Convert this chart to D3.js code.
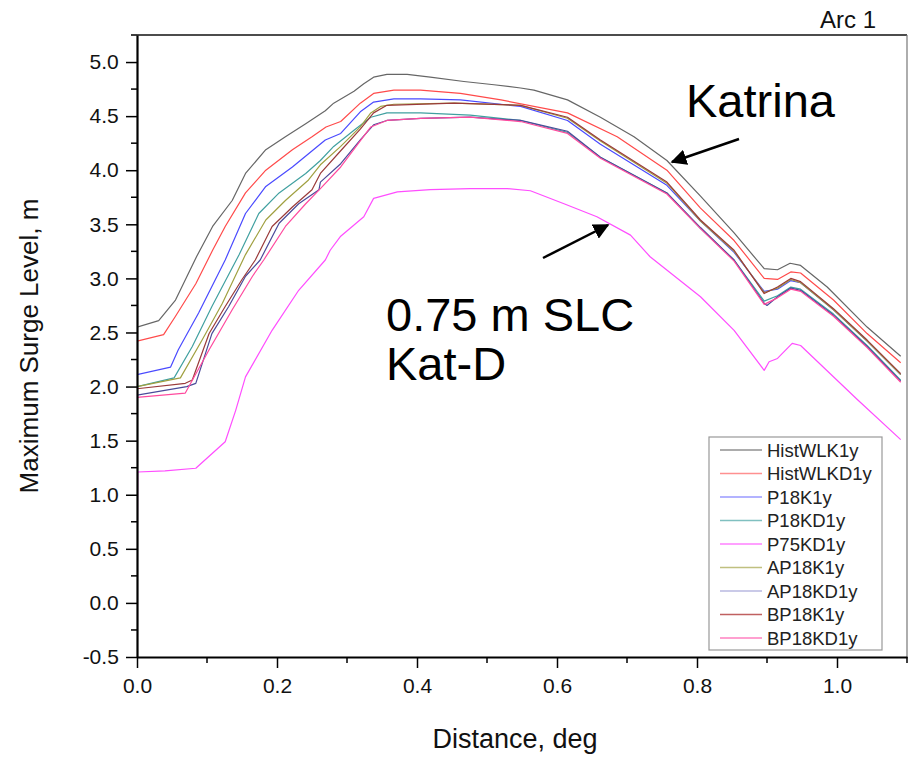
<!DOCTYPE html>
<html>
<head>
<meta charset="utf-8">
<script src="https://cdn.jsdelivr.net/npm/d3@7"></script>
<style>
  body { margin: 0; background: #fff; }
  svg { font-family: "Liberation Sans", Arial, sans-serif; }
</style>
</head>
<body>
<div id="chart"></div>
<script>
// series: [distance deg, max surge level m]
const histWLK1y = [[0,2.55],[0.031,2.61],[0.055,2.80],[0.085,3.20],[0.108,3.48],[0.136,3.72],[0.155,3.97],[0.184,4.19],[0.212,4.31],[0.241,4.43],[0.269,4.55],[0.281,4.62],[0.31,4.73],[0.324,4.80],[0.338,4.86],[0.357,4.886],[0.386,4.886],[0.419,4.86],[0.467,4.82],[0.51,4.79],[0.548,4.76],[0.567,4.74],[0.615,4.65],[0.662,4.49],[0.71,4.31],[0.757,4.09],[0.805,3.76],[0.853,3.42],[0.896,3.09],[0.915,3.08],[0.933,3.14],[0.948,3.12],[0.986,2.92],[1.043,2.55],[1.091,2.28]];
const histWLKD1y = [[0,2.42],[0.038,2.48],[0.055,2.65],[0.084,2.95],[0.108,3.26],[0.126,3.48],[0.155,3.79],[0.184,4.0],[0.222,4.19],[0.25,4.31],[0.27,4.40],[0.291,4.45],[0.319,4.62],[0.338,4.71],[0.367,4.74],[0.405,4.74],[0.462,4.71],[0.52,4.65],[0.615,4.53],[0.686,4.31],[0.757,4.0],[0.805,3.65],[0.853,3.35],[0.896,3.0],[0.915,2.99],[0.934,3.06],[0.948,3.05],[0.995,2.80],[1.043,2.49],[1.091,2.22]];
const p18K1y = [[0,2.11],[0.048,2.18],[0.059,2.34],[0.088,2.68],[0.126,3.17],[0.155,3.60],[0.184,3.85],[0.222,4.03],[0.269,4.28],[0.291,4.34],[0.319,4.54],[0.338,4.63],[0.367,4.66],[0.405,4.66],[0.462,4.65],[0.548,4.59],[0.615,4.46],[0.662,4.24],[0.757,3.86],[0.805,3.53],[0.853,3.24],[0.896,2.88],[0.915,2.90],[0.934,2.98],[0.948,2.96],[0.995,2.71],[1.043,2.42],[1.091,2.11]];
const p18KD1y = [[0,2.0],[0.053,2.08],[0.079,2.37],[0.107,2.74],[0.146,3.22],[0.174,3.60],[0.203,3.79],[0.241,3.97],[0.262,4.09],[0.281,4.22],[0.31,4.37],[0.334,4.49],[0.357,4.53],[0.405,4.53],[0.476,4.51],[0.548,4.46],[0.615,4.35],[0.662,4.12],[0.757,3.79],[0.805,3.46],[0.853,3.17],[0.896,2.79],[0.915,2.84],[0.934,2.92],[0.948,2.90],[0.995,2.67],[1.043,2.38],[1.091,2.06]];
const p75KD1y = [[0,0.0],[0.001,1.21],[0.04,1.22],[0.084,1.245],[0.126,1.49],[0.141,1.78],[0.155,2.09],[0.193,2.52],[0.231,2.89],[0.269,3.17],[0.276,3.26],[0.291,3.39],[0.324,3.57],[0.338,3.74],[0.372,3.80],[0.419,3.82],[0.476,3.83],[0.529,3.83],[0.562,3.81],[0.61,3.69],[0.657,3.57],[0.705,3.40],[0.733,3.20],[0.805,2.83],[0.853,2.52],[0.896,2.15],[0.903,2.23],[0.915,2.26],[0.936,2.40],[0.948,2.38],[1.029,1.88],[1.091,1.51]];
const ap18K1y = [[0,2.0],[0.062,2.08],[0.093,2.43],[0.122,2.77],[0.155,3.22],[0.184,3.54],[0.212,3.72],[0.245,3.91],[0.262,4.05],[0.291,4.22],[0.319,4.40],[0.334,4.53],[0.348,4.59],[0.367,4.61],[0.453,4.62],[0.548,4.60],[0.615,4.48],[0.662,4.27],[0.757,3.88],[0.805,3.53],[0.853,3.25],[0.896,2.87],[0.915,2.91],[0.934,2.99],[0.948,2.96],[0.995,2.71],[1.043,2.42],[1.091,2.11]];
const ap18KD1y = [[0,1.92],[0.071,2.0],[0.084,2.03],[0.107,2.49],[0.131,2.74],[0.155,3.02],[0.176,3.17],[0.203,3.51],[0.231,3.69],[0.26,3.82],[0.262,3.89],[0.291,4.06],[0.319,4.28],[0.338,4.42],[0.357,4.46],[0.405,4.48],[0.476,4.49],[0.548,4.46],[0.615,4.36],[0.662,4.12],[0.757,3.79],[0.805,3.47],[0.853,3.17],[0.896,2.77],[0.9,2.75],[0.915,2.83],[0.934,2.91],[0.948,2.89],[0.995,2.66],[1.043,2.37],[1.091,2.05]];
const bp18K1y = [[0,1.98],[0.069,2.03],[0.079,2.06],[0.103,2.49],[0.126,2.74],[0.15,2.99],[0.169,3.17],[0.193,3.48],[0.222,3.66],[0.25,3.82],[0.262,3.97],[0.291,4.18],[0.319,4.38],[0.338,4.53],[0.357,4.60],[0.453,4.62],[0.548,4.60],[0.615,4.49],[0.662,4.28],[0.757,3.89],[0.805,3.54],[0.853,3.26],[0.896,2.86],[0.915,2.92],[0.934,3.0],[0.948,2.97],[0.995,2.72],[1.043,2.43],[1.091,2.12]];
const bp18KD1y = [[0,1.90],[0.069,1.94],[0.103,2.34],[0.136,2.71],[0.165,3.02],[0.181,3.17],[0.212,3.48],[0.241,3.69],[0.262,3.83],[0.291,4.03],[0.334,4.40],[0.357,4.46],[0.405,4.48],[0.476,4.49],[0.548,4.45],[0.615,4.34],[0.662,4.11],[0.757,3.78],[0.805,3.46],[0.853,3.16],[0.896,2.76],[0.915,2.82],[0.934,2.90],[0.948,2.88],[0.995,2.65],[1.043,2.36],[1.091,2.04]];

const seriesNames = ["HistWLK1y","HistWLKD1y","P18K1y","P18KD1y","P75KD1y","AP18K1y","AP18KD1y","BP18K1y","BP18KD1y"];
const seriesData = [histWLK1y, histWLKD1y, p18K1y, p18KD1y, p75KD1y, ap18K1y, ap18KD1y, bp18K1y, bp18KD1y];
const seriesColors = ["#666666","#ff4a4a","#4a4aff","#40a0a0","#ff4dff","#a0a040","#4a4a99","#9a3a3a","#ff4a9e"];
const legendColors = ["#909090","#ff9090","#9a9aff","#80c0c0","#ff80ff","#c0c080","#b8b8e0","#c06060","#ff80c0"];

const xTicks = [0,0.2,0.4,0.6,0.8,1.0];
const yTicks = [-0.5,0,0.5,1,1.5,2,2.5,3,3.5,4,4.5,5];

const W = 912, H = 757;
const margin = {left: 137, right: 5, top: 35, bottom: 100};

const svg = d3.select('#chart').append('svg')
    .attr('width', W)
    .attr('height', H)

const x = d3.scaleLinear().domain([0, 1.1]).range([margin.left, W - margin.right])
const y = d3.scaleLinear().domain([-0.5, 5.25]).range([H - margin.bottom, margin.top])
const fmt = d => d.toFixed(1)   // plain hyphen minus like the original

svg.append('clipPath').attr('id', 'plotclip')
    .append('rect')
    .attr('x', margin.left).attr('y', margin.top)
    .attr('width', W - margin.right - margin.left)
    .attr('height', H - margin.bottom - margin.top)

// frame: top and right thin lines
svg.append('line')
    .attr('x1', margin.left).attr('x2', W - margin.right)
    .attr('y1', margin.top).attr('y2', margin.top)
    .attr('stroke', '#111').attr('stroke-width', 1.5)
svg.append('line')
    .attr('x1', W - margin.right).attr('x2', W - margin.right)
    .attr('y1', margin.top).attr('y2', H - margin.bottom)
    .attr('stroke', '#777').attr('stroke-width', 1.2)

// curves
const line = d3.line().x(d => x(d[0])).y(d => y(d[1]))
svg.append('g').attr('clip-path', 'url(#plotclip)')
    .selectAll('path')
    .data(seriesData)
    .join('path')
    .attr('d', line)
    .attr('fill', 'none')
    .attr('stroke', (d, i) => seriesColors[i])
    .attr('stroke-width', 1.2)
    .attr('stroke-linejoin', 'round')

// axes
const xAxis = svg.append('g')
    .attr('transform', `translate(0, ${H - margin.bottom})`)
    .call(d3.axisBottom(x).tickValues(xTicks).tickFormat(fmt).tickSize(11).tickSizeOuter(0))
xAxis.append('g').selectAll('line')
    .data([0.1,0.3,0.5,0.7,0.9,1.1])
    .join('line')
    .attr('x1', d => x(d)).attr('x2', d => x(d))
    .attr('y1', 0).attr('y2', 6)
    .attr('stroke', '#000').attr('stroke-width', 1.5)

const yAxis = svg.append('g')
    .attr('transform', `translate(${margin.left}, 0)`)
    .call(d3.axisLeft(y).tickValues(yTicks).tickFormat(fmt).tickSize(11).tickSizeOuter(0))
yAxis.append('g').selectAll('line')
    .data(d3.range(-0.25, 5.26, 0.5))
    .join('line')
    .attr('y1', d => y(d)).attr('y2', d => y(d))
    .attr('x1', 0).attr('x2', -6)
    .attr('stroke', '#000').attr('stroke-width', 1.5)

svg.selectAll('.domain').attr('stroke', '#000').attr('stroke-width', 2.2)
svg.selectAll('.tick line').attr('stroke', '#000').attr('stroke-width', 1.5)
svg.selectAll('.tick text').attr('font-size', 21).attr('fill', '#111')
    .attr('font-family', '"Liberation Sans", Arial, sans-serif')
xAxis.selectAll('.tick text').attr('dy', '1.05em')
yAxis.selectAll('.tick text').attr('dx', '-0.2em')

// axis titles
svg.append('text')
    .attr('x', 515)
    .attr('y', 748)
    .attr('text-anchor', 'middle')
    .attr('font-size', 27)
    .attr('fill', '#111')
    .text('Distance, deg')
svg.append('text')
    .attr('transform', `translate(38, ${(margin.top + H - margin.bottom) / 2}) rotate(-90)`)
    .attr('text-anchor', 'middle')
    .attr('font-size', 26)
    .attr('fill', '#111')
    .text('Maximum Surge Level, m')

svg.append('text')
    .attr('x', 876).attr('y', 28)
    .attr('text-anchor', 'end')
    .attr('font-size', 24)
    .attr('fill', '#111')
    .text('Arc 1')

// annotations
svg.append('defs').append('marker')
    .attr('id', 'arrow')
    .attr('viewBox', '0 0 10 10')
    .attr('refX', 9).attr('refY', 5)
    .attr('markerWidth', 16).attr('markerHeight', 16)
    .attr('markerUnits', 'userSpaceOnUse')
    .attr('orient', 'auto')
    .append('path').attr('d', 'M0,0 L10,5 L0,10 z').attr('fill', '#000')

svg.append('line')
    .attr('x1', 739).attr('y1', 139).attr('x2', 672).attr('y2', 162)
    .attr('stroke', '#000').attr('stroke-width', 2.5)
    .attr('marker-end', 'url(#arrow)')
svg.append('line')
    .attr('x1', 543).attr('y1', 258).attr('x2', 608).attr('y2', 225)
    .attr('stroke', '#000').attr('stroke-width', 2.5)
    .attr('marker-end', 'url(#arrow)')

svg.append('text')
    .attr('x', 686).attr('y', 117)
    .attr('font-size', 47).attr('fill', '#000')
    .text('Katrina')
svg.append('text')
    .attr('x', 386).attr('y', 331)
    .attr('font-size', 47).attr('fill', '#000')
    .text('0.75 m SLC')
svg.append('text')
    .attr('x', 386).attr('y', 380)
    .attr('font-size', 47).attr('fill', '#000')
    .text('Kat-D')

// legend
const legend = svg.append('g')
legend.append('rect')
    .attr('x', 709).attr('y', 437)
    .attr('width', 173).attr('height', 213)
    .attr('fill', '#fff')
    .attr('stroke', '#999').attr('stroke-width', 1.2)
const rows = legend.selectAll('g.row')
    .data(seriesNames)
    .join('g')
    .attr('class', 'row')
    .attr('transform', (d, i) => `translate(0, ${450 + i * 23.5})`)
rows.append('line')
    .attr('x1', 720).attr('x2', 762)
    .attr('stroke', (d, i) => legendColors[i])
    .attr('stroke-width', 1.5)
rows.append('text')
    .attr('x', 767).attr('dy', '0.36em')
    .attr('font-size', 18.5).attr('fill', '#222')
    .text(d => d)
</script>
</body>
</html>
